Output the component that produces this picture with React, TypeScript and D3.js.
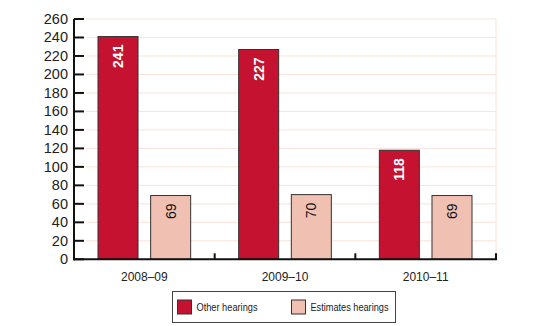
import React from "react";
import * as d3 from "d3";

const categories = ["2008–09", "2009–10", "2010–11"];
const seriesNames = ["Other hearings", "Estimates hearings"];
const otherHearings = [241, 227, 118];
const estimatesHearings = [69, 70, 69];
const yTicks = [0, 20, 40, 60, 80, 100, 120, 140, 160, 180, 200, 220, 240, 260];

const colors = ["#C41230", "#F0C0B2"];

export default function App() {
  const W = 540, H = 326;
  const left = 74, right = 496, top = 19, bottom = 259.3;
  const x = d3.scaleBand<string>().domain(categories).range([left, right]).padding(0);
  const y = d3.scaleLinear().domain([0, 260]).range([bottom, top]);
  const inner = d3.scaleBand<number>().domain([0, 1]).range([0, x.bandwidth() - 48]).paddingInner(0.24).paddingOuter(0);
  const series = [otherHearings, estimatesHearings];
  const font = "Liberation Sans, Arial, sans-serif";
  const legendX = [177.5, 291.5];
  const legendTextLen = [61, 78];

  return (
    <svg width={W} height={H} style={{ position: "absolute", left: 0, top: 0, background: "#fff" }} fontFamily={font}>
      {/* gridlines */}
      {yTicks.slice(1).map((t) => (
        <line key={"g" + t} x1={left + 12} x2={right} y1={y(t)} y2={y(t)} stroke="#FBE2DA" strokeWidth={1} />
      ))}
      <line x1={right} x2={right} y1={top} y2={bottom} stroke="#FBE2DA" strokeWidth={1} />
      {/* bars */}
      {categories.map((c, i) => (
        <g key={c} transform={`translate(${(x(c) as number) + 24},0)`}>
          {series.map((s, j) => {
            const bx = inner(j) as number;
            const bw = inner.bandwidth();
            const by = y(s[i]);
            return (
              <g key={j}>
                <rect x={bx} y={by} width={bw} height={bottom - by} fill={colors[j]} stroke="#333" strokeWidth={1} />
                <text
                  transform={`translate(${bx + bw / 2},${by + 8}) rotate(-90)`}
                  textAnchor="end"
                  dominantBaseline="central"
                  fontSize={14}
                  fontWeight={j === 0 ? "bold" : "normal"}
                  fill={j === 0 ? "#fff" : "#111"}
                >
                  {s[i]}
                </text>
              </g>
            );
          })}
        </g>
      ))}
      {/* y axis */}
      <line x1={left} x2={left} y1={top} y2={bottom + 1} stroke="#111" strokeWidth={2} />
      {yTicks.map((t) => (
        <g key={"t" + t}>
          <line x1={left} x2={left + 10} y1={y(t)} y2={y(t)} stroke="#111" strokeWidth={2} />
          <text x={left - 6} y={y(t)} textAnchor="end" dominantBaseline="central" fontSize={14.5} fill="#222">
            {t}
          </text>
        </g>
      ))}
      {/* x axis */}
      <line x1={left - 1} x2={right + 1} y1={bottom} y2={bottom} stroke="#111" strokeWidth={2} />
      {categories.map((c) => (
        <g key={"x" + c}>
          <line x1={(x(c) as number) + x.bandwidth()} x2={(x(c) as number) + x.bandwidth()} y1={bottom} y2={bottom - 6} stroke="#111" strokeWidth={2} />
          <text x={(x(c) as number) + x.bandwidth() / 2} y={281} textAnchor="middle" fontSize={12} fill="#222">
            {c}
          </text>
        </g>
      ))}
      {/* legend */}
      <rect x={172.5} y={291.5} width={223} height={31} fill="#fff" stroke="#444" strokeWidth={1} />
      {seriesNames.map((n, j) => {
        const lx = legendX[j];
        return (
          <g key={n}>
            <rect x={lx} y={300} width={14} height={14} fill={colors[j]} stroke="#333" strokeWidth={1} />
            <text x={lx + 19} y={311} fontSize={11} fill="#222" textLength={legendTextLen[j]} lengthAdjust="spacingAndGlyphs">
              {n}
            </text>
          </g>
        );
      })}
    </svg>
  );
}
